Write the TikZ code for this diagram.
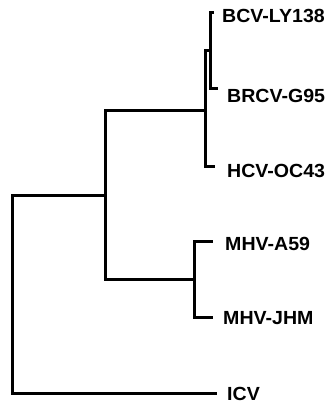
\documentclass[tikz,border=0pt]{standalone}
\usepackage{fontspec}
\setmainfont{Liberation Sans}[FakeStretch=1.03]
\begin{document}
\begin{tikzpicture}[x=1pt,y=-1pt,
  branch/.style={line width=3pt,line cap=rect,line join=miter},
  lab/.style={anchor=base west,inner sep=0pt,font=\fontsize{19}{21}\selectfont\bfseries}]
\useasboundingbox[fill=white] (0,0) rectangle (327,404);
% internal nodes
\coordinate (nR) at (12,195);
\coordinate (nA) at (105,195);
\coordinate (nB) at (205,110);
\coordinate (nC) at (210,51);
\coordinate (nM) at (194,279);
% leaf tips
\coordinate (tBCV) at (212,13);
\coordinate (tBRCV) at (216,88);
\coordinate (tHCV) at (213,166);
\coordinate (tA59) at (211,241);
\coordinate (tJHM) at (211,317);
\coordinate (tICV) at (215,393);
% labels
\node[lab] (lBCV) at (222,23) {BCV-LY138};
\node[lab] (lBRCV) at (227,102) {BRCV-G95};
\node[lab] (lHCV) at (227,177) {HCV-OC43};
\node[lab] (lA59) at (225,250) {MHV-A59};
\node[lab] (lJHM) at (223,324) {MHV-JHM};
\node[lab] (lICV) at (227,400) {ICV};
% branches
\draw[branch] (tBCV) -| (nC) |- (tBRCV);
\draw[branch] (nC) -| (nB) |- (tHCV);
\draw[branch] (tA59) -| (nM) |- (tJHM);
\draw[branch] (nB) -| (nA) |- (nM);
\draw[branch] (nA) -| (nR) |- (tICV);
\end{tikzpicture}
\end{document}
